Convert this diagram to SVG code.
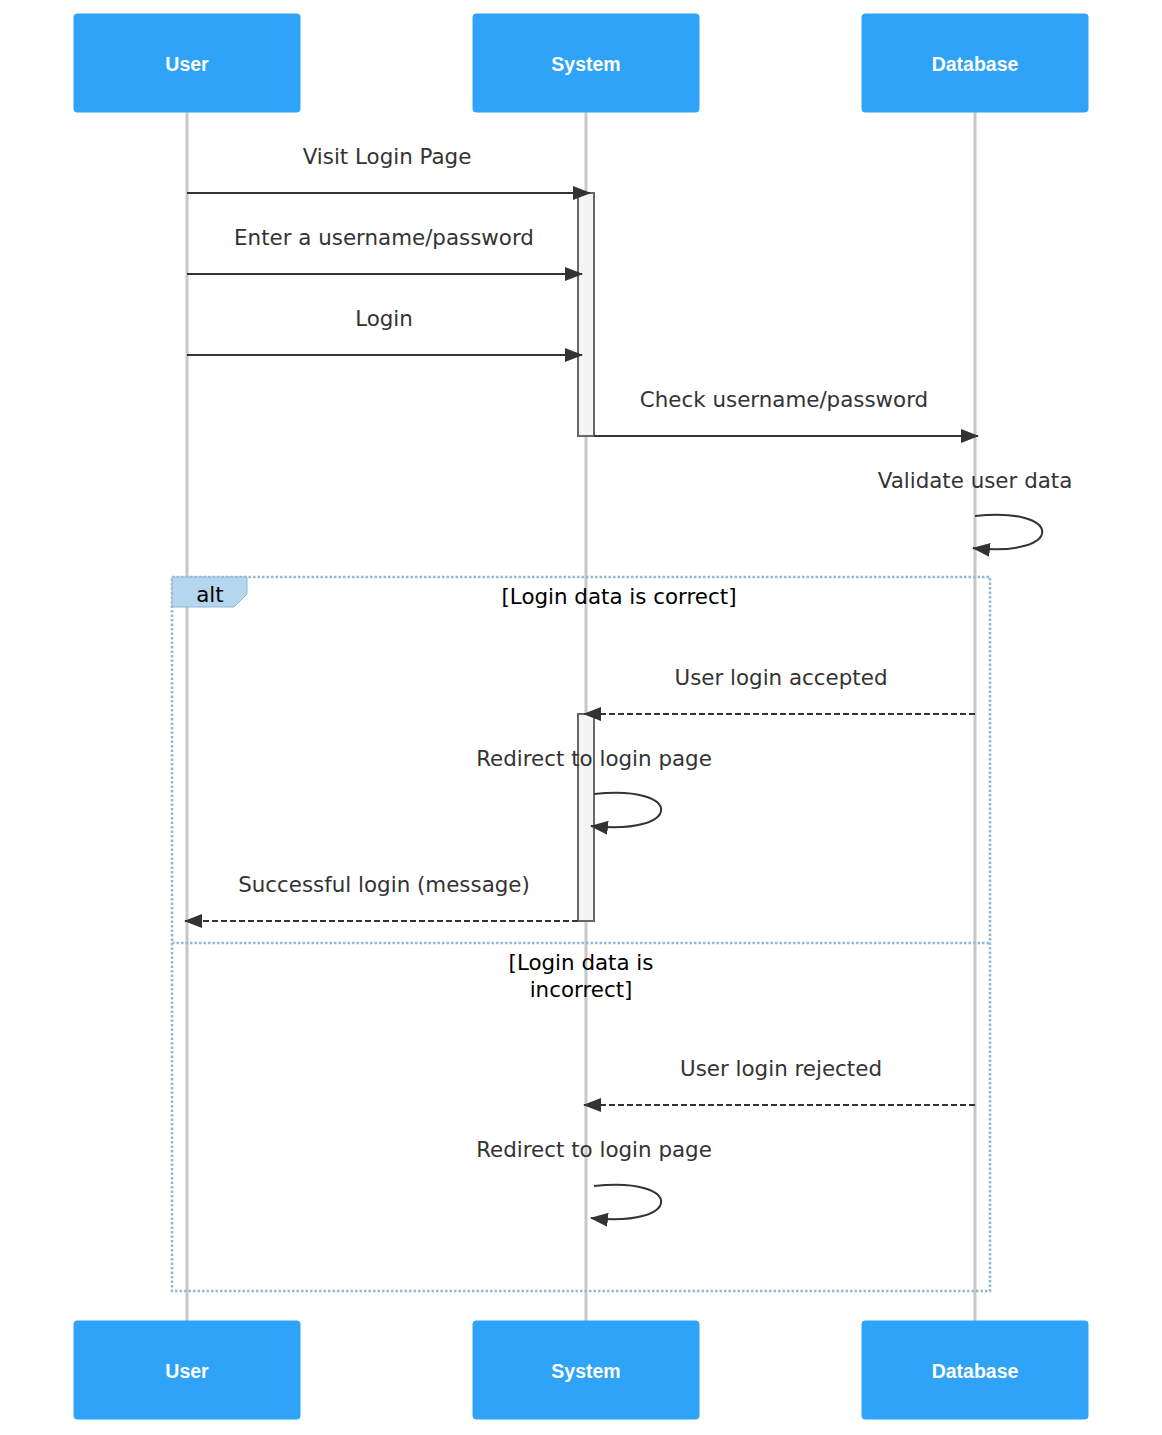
<svg xmlns="http://www.w3.org/2000/svg" width="1162" height="1435" viewBox="0 0 1162 1435">
  <style>
    .actor rect { fill: #2ea3f7; stroke: #2ea3f7; }
    .actor text { fill: #ffffff; font-family: "Liberation Sans", Arial, sans-serif; font-weight: bold; font-size: 19.5px; text-anchor: middle; dominant-baseline: central; }
    .lifeline { stroke: #c8c8c8; stroke-width: 3; }
    .msg { fill: #333333; font-family: "DejaVu Sans", sans-serif; font-size: 21.4px; text-anchor: middle; }
    .solid { stroke: #333333; stroke-width: 2; fill: none; }
    .dashed { stroke: #333333; stroke-width: 2; fill: none; stroke-dasharray: 6 3; }
    .activation { fill: #f4f4f4; stroke: #666666; stroke-width: 2; }
    .loopbox { fill: none; stroke: #94b8d2; stroke-width: 2.5; stroke-dasharray: 2.5 2; }
    .looplabel { fill: #b5d6ef; stroke: #94b8d2; stroke-width: 1; }
    .looptext { fill: #000000; font-family: "DejaVu Sans", sans-serif; font-size: 21.4px; text-anchor: middle; }
  </style>
  <defs>
    <marker id="arrowhead" viewBox="0 0 18 14" refX="17" refY="7" markerWidth="18" markerHeight="14" markerUnits="userSpaceOnUse" orient="auto">
      <path d="M0,0 L18,7 L0,14 Z" fill="#333333"/>
    </marker>
  </defs>

  <!-- lifelines -->
  <g id="lifelines">
    <line class="lifeline" x1="187" y1="112" x2="187" y2="1321"/>
    <line class="lifeline" x1="586" y1="112" x2="586" y2="1321"/>
    <line class="lifeline" x1="975" y1="112" x2="975" y2="1321"/>
  </g>

  <!-- alt fragment -->
  <g id="alt">
    <rect class="loopbox" x="172" y="577" width="818" height="714"/>
    <polygon class="looplabel" points="172,577 247,577 247,594 234,607 172,607"/>
    <text class="looptext" x="210" y="602">alt</text>
    <text class="looptext" x="619" y="604">[Login data is correct]</text>
    <line class="loopbox" x1="172" y1="943" x2="990" y2="943"/>
    <text class="looptext" x="581" y="970">[Login data is</text>
    <text class="looptext" x="581" y="997">incorrect]</text>
  </g>

  <!-- activations -->
  <g id="activations">
    <rect class="activation" x="578" y="193" width="16" height="243"/>
    <rect class="activation" x="578" y="714" width="16" height="207"/>
  </g>

  <!-- messages -->
  <g id="connectors">
    <text class="msg" x="387" y="164">Visit Login Page</text>
    <line class="solid" x1="187" y1="193" x2="590" y2="193" marker-end="url(#arrowhead)"/>

    <text class="msg" x="384" y="245">Enter a username/password</text>
    <line class="solid" x1="187" y1="274" x2="582" y2="274" marker-end="url(#arrowhead)"/>

    <text class="msg" x="384" y="326">Login</text>
    <line class="solid" x1="187" y1="355" x2="582" y2="355" marker-end="url(#arrowhead)"/>

    <text class="msg" x="784" y="407">Check username/password</text>
    <line class="solid" x1="594" y1="436" x2="978" y2="436" marker-end="url(#arrowhead)"/>

    <text class="msg" x="975" y="488">Validate user data</text>
    <path class="solid" d="M975,516 C1065,506 1065,558 973,548" marker-end="url(#arrowhead)"/>

    <text class="msg" x="781" y="685">User login accepted</text>
    <line class="dashed" x1="975" y1="714" x2="584" y2="714" marker-end="url(#arrowhead)"/>

    <text class="msg" x="594" y="766">Redirect to login page</text>
    <path class="solid" d="M594,794 C684,784 684,836 591,826" marker-end="url(#arrowhead)"/>

    <text class="msg" x="384" y="892">Successful login (message)</text>
    <line class="dashed" x1="578" y1="921" x2="185" y2="921" marker-end="url(#arrowhead)"/>

    <text class="msg" x="781" y="1076">User login rejected</text>
    <line class="dashed" x1="975" y1="1105" x2="584" y2="1105" marker-end="url(#arrowhead)"/>

    <text class="msg" x="594" y="1157">Redirect to login page</text>
    <path class="solid" d="M594,1186 C684,1176 684,1228 591,1218" marker-end="url(#arrowhead)"/>
  </g>

  <!-- actors -->
  <g id="user-top" class="actor"><rect x="74" y="14" width="226" height="98" rx="3"/><text x="187" y="64">User</text></g>
  <g id="system-top" class="actor"><rect x="473" y="14" width="226" height="98" rx="3"/><text x="586" y="64">System</text></g>
  <g id="database-top" class="actor"><rect x="862" y="14" width="226" height="98" rx="3"/><text x="975" y="64">Database</text></g>
  <g id="user-bottom" class="actor"><rect x="74" y="1321" width="226" height="98" rx="3"/><text x="187" y="1371">User</text></g>
  <g id="system-bottom" class="actor"><rect x="473" y="1321" width="226" height="98" rx="3"/><text x="586" y="1371">System</text></g>
  <g id="database-bottom" class="actor"><rect x="862" y="1321" width="226" height="98" rx="3"/><text x="975" y="1371">Database</text></g>
</svg>
